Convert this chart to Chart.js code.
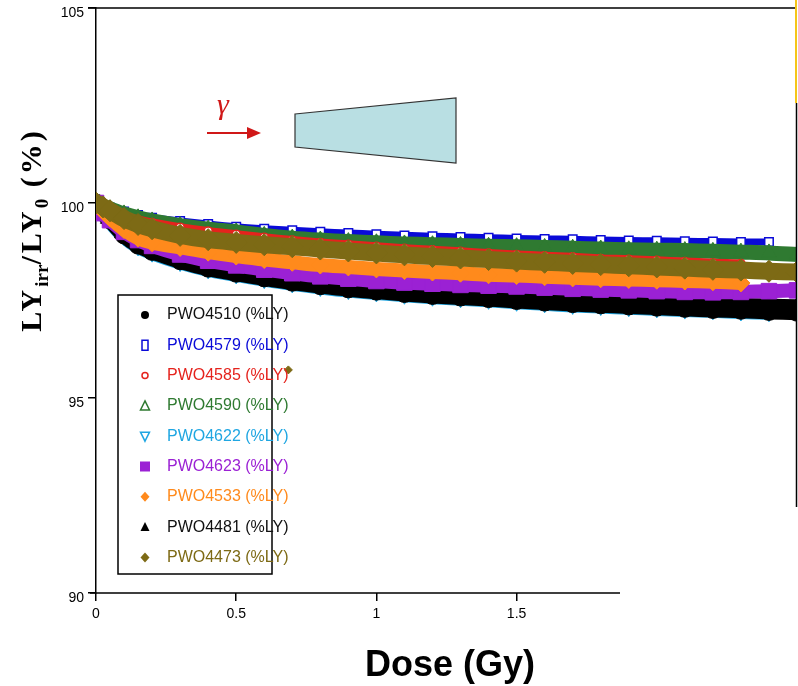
<!DOCTYPE html>
<html>
<head>
<meta charset="utf-8">
<script src="https://cdn.jsdelivr.net/npm/chart.js@4.4.1/dist/chart.umd.min.js"></script>
<style>
  body { margin: 0; background: #fff; }
  canvas { display: block; }
</style>
</head>
<body>
<canvas id="chart" width="798" height="686"></canvas>
<script>
// Dose points (Gy) shared by all crystals
const doses = [0, 0.025, 0.05, 0.1, 0.15, 0.2, 0.3, 0.4, 0.5, 0.6, 0.7, 0.8, 0.9, 1.0, 1.1, 1.2, 1.3, 1.4, 1.5, 1.6, 1.7, 1.8, 1.9, 2.0, 2.1, 2.2, 2.3, 2.4, 2.5];

// LY_irr / LY_0 (%)
const pwo4510 = [100, 99.76, 99.57, 99.18, 98.92, 98.76, 98.52, 98.33, 98.2, 98.08, 97.97, 97.88, 97.8, 97.74, 97.68, 97.63, 97.59, 97.55, 97.5, 97.46, 97.42, 97.39, 97.36, 97.33, 97.3, 97.27, 97.25, 97.22, 97.2];
const pwo4579 = [100, 99.93, 99.88, 99.78, 99.69, 99.62, 99.54, 99.46, 99.39, 99.34, 99.3, 99.26, 99.23, 99.2, 99.17, 99.15, 99.13, 99.11, 99.09, 99.08, 99.07, 99.05, 99.04, 99.03, 99.02, 99.01, 99.0, 99.0];
const pwo4585 = [100, 99.9, 99.82, 99.68, 99.58, 99.5, 99.38, 99.28, 99.2, 99.12, 99.05, 98.99, 98.94, 98.89, 98.84, 98.8, 98.76, 98.72, 98.68, 98.65, 98.62, 98.58, 98.56, 98.53, 98.5, 98.47, 98.45];
const pwo4590 = [100, 99.92, 99.85, 99.72, 99.62, 99.54, 99.42, 99.33, 99.26, 99.17, 99.1, 99.05, 99.01, 98.98, 98.95, 98.93, 98.91, 98.89, 98.88, 98.86, 98.84, 98.82, 98.8, 98.79, 98.78, 98.76, 98.74, 98.72, 98.68];
const pwo4622 = [100, 99.75, 99.55, 99.16, 98.9, 98.74, 98.5, 98.31, 98.18, 98.06, 97.95, 97.86, 97.78, 97.72, 97.66, 97.61, 97.57, 97.53, 97.48, 97.44, 97.4, 97.37, 97.34, 97.31, 97.28, 97.26, 97.23, 97.21];
const pwo4623 = [100, 99.74, 99.56, 99.26, 99.05, 98.9, 98.68, 98.52, 98.4, 98.29, 98.2, 98.12, 98.06, 98.0, 97.96, 97.93, 97.9, 97.88, 97.86, 97.83, 97.8, 97.78, 97.76, 97.74, 97.72, 97.71, 97.72, 97.74, 97.76];
const pwo4533 = [100, 99.8, 99.62, 99.32, 99.1, 98.98, 98.86, 98.74, 98.64, 98.55, 98.48, 98.41, 98.36, 98.31, 98.27, 98.23, 98.2, 98.16, 98.14, 98.11, 98.08, 98.06, 98.04, 98.02, 98.0, 97.98, 97.95];
const pwo4481 = [100, 99.8, 99.62, 99.25, 99.0, 98.85, 98.62, 98.42, 98.29, 98.17, 98.06, 97.97, 97.89, 97.82, 97.76, 97.71, 97.67, 97.63, 97.59, 97.55, 97.51, 97.48, 97.45, 97.42, 97.39, 97.37, 97.34, 97.32, 97.3];
const pwo4473 = [100, 99.9, 99.8, 99.6, 99.45, 99.34, 99.17, 99.06, 98.99, 98.93, 98.88, 98.82, 98.77, 98.72, 98.67, 98.63, 98.59, 98.55, 98.51, 98.48, 98.45, 98.42, 98.39, 98.36, 98.33, 98.3, 98.28, 98.25, 98.23];
// one stray PWO4473 point
const pwo4473StrayDose = [0.686];
const pwo4473StrayLY = [95.72];

const seriesNames = ["PWO4510 (%LY)", "PWO4579 (%LY)", "PWO4585 (%LY)", "PWO4590 (%LY)", "PWO4622 (%LY)", "PWO4623 (%LY)", "PWO4533 (%LY)", "PWO4481 (%LY)", "PWO4473 (%LY)"];
const xTicks = [0, 0.5, 1, 1.5];
const yTicks = [90, 95, 100, 105];

const toPoints = (vals, xs = doses) => vals.map((v, i) => ({ x: xs[i], y: v }));

// style per series: colour, band width, marker
const styles = [
  { color: '#000000', width: 16, marker: 'circle', r: 9, fill: true, order: 4 },
  { color: '#0a0ad8', width: 7, marker: 'rect', r: 6, fill: false, order: 8 },
  { color: '#e5231d', width: 8, marker: 'circle', r: 4, fill: false, order: 6 },
  { color: '#2f7a31', width: 15, marker: 'triangle', r: 9, fill: true, order: 7 },
  { color: '#1fa6e2', width: 16, marker: 'triangle', r: 10, fill: true, order: 5, rot: 180 },
  { color: '#9b21d4', width: 14, marker: 'rect', r: 11, fill: true, order: 2 },
  { color: '#ff8a1c', width: 14, marker: 'rectRot', r: 9, fill: true, order: 1 },
  { color: '#000000', width: 18, marker: 'triangle', r: 11, fill: true, order: 3 },
  { color: '#7d6a15', width: 17, marker: 'rectRot', r: 11, fill: true, order: 0 }
];
const seriesValues = [pwo4510, pwo4579, pwo4585, pwo4590, pwo4622, pwo4623, pwo4533, pwo4481, pwo4473];

const datasets = seriesValues.map((vals, i) => {
  const s = styles[i];
  return {
    label: seriesNames[i],
    data: toPoints(vals),
    showLine: true,
    tension: 0.3,
    borderColor: s.color,
    borderWidth: s.width,
    borderCapStyle: 'butt',
    borderJoinStyle: 'round',
    pointStyle: s.marker,
    pointRotation: s.rot || 0,
    pointRadius: s.r,
    pointBorderWidth: s.fill ? 1 : 1.5,
    pointBorderColor: s.color,
    pointBackgroundColor: s.fill ? s.color : '#ffffff',
    order: s.order
  };
});
datasets.push({
  label: 'PWO4473 stray',
  data: toPoints(pwo4473StrayLY, pwo4473StrayDose),
  showLine: false,
  pointStyle: 'rectRot',
  pointRadius: 4,
  pointBackgroundColor: '#7d6a15',
  pointBorderColor: '#7d6a15',
  order: -1
});

function drawMarker(ctx, s, x, y) {
  ctx.save();
  ctx.fillStyle = s.color;
  ctx.strokeStyle = s.color;
  ctx.lineWidth = 1.5;
  ctx.beginPath();
  if (s.marker === 'circle') {
    ctx.arc(x, y, s.fill ? 4 : 3, 0, Math.PI * 2);
  } else if (s.marker === 'rect') {
    if (s.fill) ctx.rect(x - 5, y - 5, 10, 10); else ctx.rect(x - 3, y - 5, 6, 10);
  } else if (s.marker === 'rectRot') {
    ctx.moveTo(x, y - 5); ctx.lineTo(x + 4.5, y); ctx.lineTo(x, y + 5); ctx.lineTo(x - 4.5, y); ctx.closePath();
  } else if (s.marker === 'triangle') {
    const d = s.rot ? -1 : 1;
    ctx.moveTo(x, y - 5 * d); ctx.lineTo(x + 4.5, y + 4 * d); ctx.lineTo(x - 4.5, y + 4 * d); ctx.closePath();
  }
  if (s.fill && s.color !== '#2f7a31' && s.color !== '#1fa6e2') ctx.fill(); else ctx.stroke();
  ctx.restore();
}

const decor = {
  id: 'decor',
  afterDraw(chart) {
    const ctx = chart.ctx;
    const a = chart.chartArea;
    ctx.save();

    // frame pieces of the original figure
    ctx.strokeStyle = '#000';
    ctx.lineWidth = 1.5;
    ctx.beginPath();
    ctx.moveTo(a.left - 8, a.top); ctx.lineTo(a.right, a.top);
    ctx.moveTo(a.right - 0.5, 103); ctx.lineTo(a.right - 0.5, 507);
    ctx.moveTo(90, a.bottom); ctx.lineTo(620, a.bottom);
    ctx.stroke();
    ctx.strokeStyle = '#f5c518';
    ctx.lineWidth = 2;
    ctx.beginPath();
    ctx.moveTo(a.right - 1, 0); ctx.lineTo(a.right - 1, 103);
    ctx.stroke();

    // gamma beam and crystal sketch
    ctx.fillStyle = '#b9dfe3';
    ctx.strokeStyle = '#333';
    ctx.lineWidth = 1.2;
    ctx.beginPath();
    ctx.moveTo(295, 114); ctx.lineTo(456, 98); ctx.lineTo(456, 163); ctx.lineTo(295, 147); ctx.closePath();
    ctx.fill(); ctx.stroke();
    ctx.strokeStyle = '#d01818';
    ctx.fillStyle = '#d01818';
    ctx.lineWidth = 2;
    ctx.beginPath();
    ctx.moveTo(207, 133); ctx.lineTo(250, 133);
    ctx.stroke();
    ctx.beginPath();
    ctx.moveTo(261, 133); ctx.lineTo(247, 127); ctx.lineTo(247, 139); ctx.closePath();
    ctx.fill();
    ctx.font = 'italic 30px "Liberation Serif", "DejaVu Serif", serif';
    ctx.textAlign = 'center';
    ctx.textBaseline = 'alphabetic';
    ctx.fillText('\u03b3', 223, 114);

    // legend box
    ctx.strokeStyle = '#000';
    ctx.lineWidth = 1.5;
    ctx.strokeRect(118, 295, 154, 279);
    ctx.font = '16px "Liberation Sans", Arial, sans-serif';
    ctx.textAlign = 'left';
    ctx.textBaseline = 'middle';
    seriesNames.forEach((name, i) => {
      const y = 315 + i * 30.3;
      drawMarker(ctx, styles[i], 145, y);
      ctx.fillStyle = styles[i].color === '#000000' ? '#111' : styles[i].color;
      ctx.fillText(name, 167, y);
    });

    // x title
    ctx.fillStyle = '#000';
    ctx.font = 'bold 36px "Liberation Sans", Arial, sans-serif';
    ctx.textAlign = 'center';
    ctx.textBaseline = 'alphabetic';
    ctx.fillText('Dose (Gy)', 450, 676);

    // y title with subscripts
    const parts = [
      { t: 'LY', size: 30, dy: 0, sp: 3 },
      { t: 'irr', size: 19, dy: 7, sp: 0 },
      { t: '/LY', size: 30, dy: 0, sp: 3 },
      { t: '0', size: 19, dy: 7, sp: 1 },
      { t: ' (%)', size: 30, dy: 0, sp: 3 }
    ];
    ctx.translate(41, 230);
    ctx.rotate(-Math.PI / 2);
    ctx.textAlign = 'left';
    let total = 0;
    parts.forEach(p => {
      ctx.font = 'bold ' + p.size + 'px "Liberation Serif", "Times New Roman", serif';
      ctx.letterSpacing = p.sp + 'px';
      p.w = ctx.measureText(p.t).width;
      total += p.w;
    });
    let x = -total / 2;
    parts.forEach(p => {
      ctx.font = 'bold ' + p.size + 'px "Liberation Serif", "Times New Roman", serif';
      ctx.letterSpacing = p.sp + 'px';
      ctx.fillText(p.t, x, p.dy);
      x += p.w;
    });
    ctx.restore();
  }
};

const tickFont = { family: '"Liberation Sans", Arial, sans-serif', size: 14 };

new Chart(document.getElementById('chart').getContext('2d'), {
  type: 'scatter',
  data: { datasets },
  options: {
    responsive: false,
    animation: false,
    layout: { autoPadding: false, padding: { top: 8, right: 1, left: 0, bottom: 0 } },
    plugins: { legend: { display: false }, tooltip: { enabled: false } },
    scales: {
      x: {
        type: 'linear',
        min: 0,
        max: 2.5,
        afterBuildTicks: s => { s.ticks = xTicks.map(v => ({ value: v })); },
        afterFit: s => { s.height = 93; s.paddingLeft = 0; s.paddingRight = 0; },
        ticks: { font: tickFont, color: '#000', padding: 5, maxRotation: 0, callback: v => String(v) },
        grid: { drawOnChartArea: false, drawTicks: true, tickLength: 8, color: '#000', lineWidth: 1.5 },
        border: { display: false }
      },
      y: {
        min: 90,
        max: 105,
        afterBuildTicks: s => { s.ticks = yTicks.map(v => ({ value: v })); },
        afterFit: s => { s.width = 96; s.paddingTop = 0; s.paddingBottom = 0; },
        ticks: { font: tickFont, color: '#000', padding: 4, labelOffset: 5 },
        grid: { drawOnChartArea: false, drawTicks: true, tickLength: 8, color: '#000', lineWidth: 1.5 },
        border: { display: true, color: '#000', width: 1.5 }
      }
    }
  },
  plugins: [decor]
});
</script>
</body>
</html>
